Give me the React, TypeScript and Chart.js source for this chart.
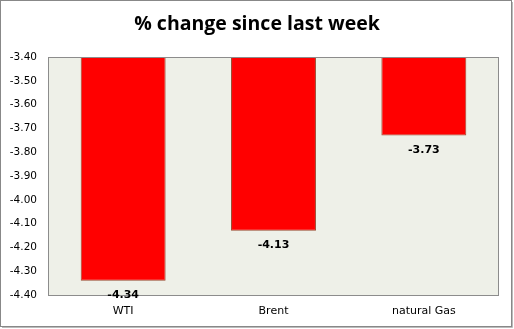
import React, { useEffect, useRef } from "react";
import { Chart, registerables } from "chart.js";

Chart.register(...registerables);

const TITLE = "% change since last week";
const categories = ["WTI", "Brent", "natural Gas"];
const values = [-4.34, -4.13, -3.73];
const yMin = -4.4;
const yMax = -3.4;
const yStep = 0.1;

const bgPlugin = {
  id: "bgPlugin",
  beforeDraw(chart: any) {
    const { ctx, chartArea, width, height } = chart;
    ctx.save();
    ctx.fillStyle = "#ffffff";
    ctx.fillRect(0, 0, width, height);
    ctx.fillStyle = "#eef0e8";
    ctx.fillRect(chartArea.left, chartArea.top, chartArea.right - chartArea.left, chartArea.bottom - chartArea.top);
    ctx.restore();
  },
  afterDraw(chart: any) {
    const { ctx, chartArea, width, height } = chart;
    ctx.save();
    ctx.strokeStyle = "#8c8c8c";
    ctx.lineWidth = 1;
    ctx.strokeRect(chartArea.left + 0.5, chartArea.top + 0.5, chartArea.right - chartArea.left - 1, chartArea.bottom - chartArea.top);
    // outer border
    ctx.strokeStyle = "#888888";
    ctx.strokeRect(0.5, 0.5, width - 3, height - 3);
    ctx.strokeStyle = "#bbbbbb";
    ctx.beginPath();
    ctx.moveTo(width - 1.5, 2);
    ctx.lineTo(width - 1.5, height - 1.5);
    ctx.lineTo(2, height - 1.5);
    ctx.stroke();
    // title
    ctx.fillStyle = "#000000";
    ctx.font = "bold 19.5px 'Open Sans'";
    ctx.textAlign = "center";
    ctx.textBaseline = "middle";
    ctx.fillText(TITLE, width / 2, 24);
    // data labels
    const meta = chart.getDatasetMeta(0);
    ctx.font = "bold 11px 'DejaVu Sans'";
    meta.data.forEach((bar: any, i: number) => {
      const v = values[i];
      ctx.fillText(v.toFixed(2), bar.x, bar.y + 14.5);
    });
    ctx.restore();
  },
};

export default function App() {
  const ref = useRef<HTMLCanvasElement>(null);
  useEffect(() => {
    document.body.style.margin = "0";
    const chart = new Chart(ref.current!, {
      type: "bar",
      data: {
        labels: categories,
        datasets: [
          {
            data: values,
            backgroundColor: "#ff0000",
            borderColor: "#9a4a30",
            borderWidth: 1,
            categoryPercentage: 1,
            barPercentage: 0.565,
          },
        ],
      },
      options: {
        animation: false,
        responsive: false,
        layout: { padding: { top: 57, right: 15, left: 0, bottom: 0 } },
        plugins: { legend: { display: false }, title: { display: false }, tooltip: { enabled: false } },
        scales: {
          x: {
            grid: { display: false, drawTicks: false },
            border: { display: false },
            ticks: { color: "#000", font: { family: "DejaVu Sans", size: 11 }, padding: 10 },
            afterFit(scale: any) {
              scale.height = 34;
            },
          },
          y: {
            min: yMin,
            max: yMax,
            grid: { display: false, drawTicks: false },
            border: { display: false },
            ticks: {
              stepSize: yStep,
              color: "#000",
              font: { family: "DejaVu Sans", size: 10.5 },
              padding: 11,
              callback: (v: any) => Number(v).toFixed(2),
            },
            afterFit(scale: any) {
              scale.width = 48;
            },
          },
        },
      },
      plugins: [bgPlugin],
    });
    return () => chart.destroy();
  }, []);
  return (
    <div style={{ position: "absolute", left: 0, top: 0, width: 514, height: 329 }}>
      <canvas ref={ref} width={514} height={329} />
    </div>
  );
}
